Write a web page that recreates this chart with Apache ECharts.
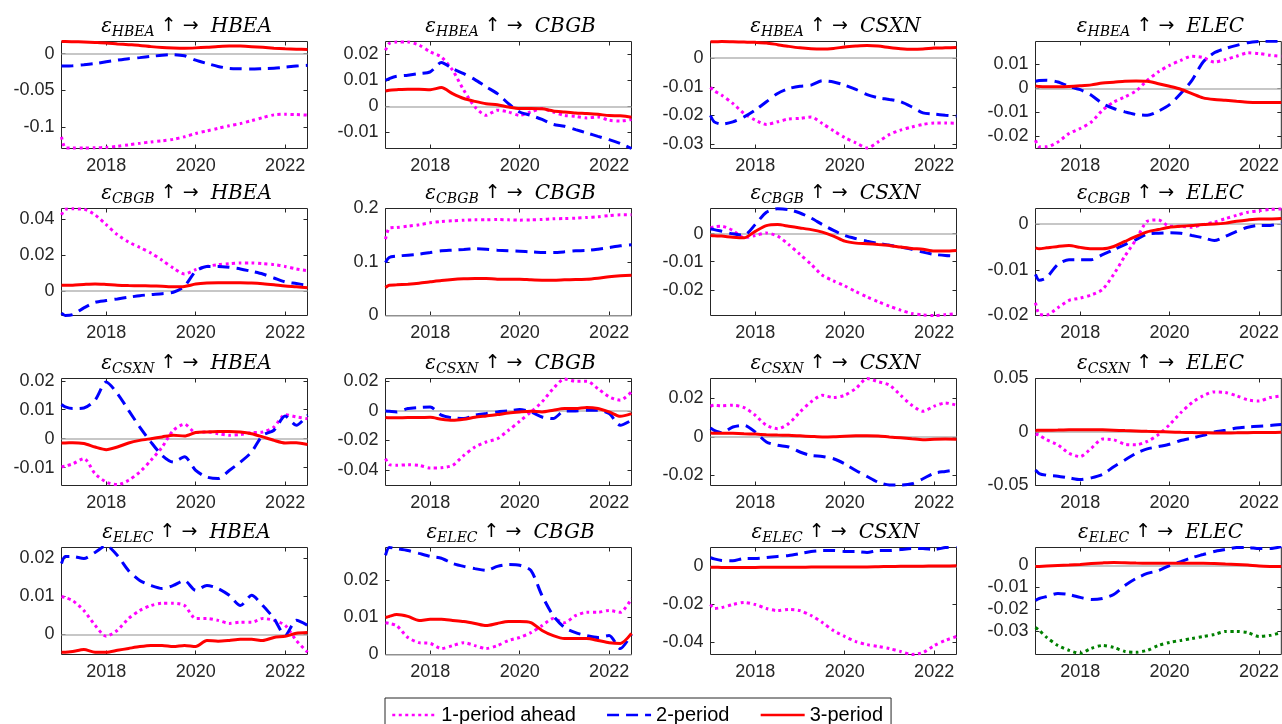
<!DOCTYPE html>
<html>
<head>
<meta charset="utf-8">
<script src="https://cdn.jsdelivr.net/npm/echarts@6/dist/echarts.min.js"></script>
<style>
html,body{margin:0;padding:0;background:#fff;}
#chart{width:1282px;height:724px;}
</style>
</head>
<body>
<div id="chart"></div>
<script>
// Variables of the system: shock (row) -> response (column)
const variables = ['HBEA', 'CBGB', 'CSXN', 'ELEC'];
const horizonNames = ['1-period ahead', '2-period', '3-period'];
const xTicks = [2018, 2020, 2022];

// Sample dates (decimal years)
const dates = [2017.0, 2017.083, 2017.25, 2017.5, 2017.75, 2018.0, 2018.25, 2018.5, 2018.75,
  2019.0, 2019.25, 2019.5, 2019.75, 2020.0, 2020.25, 2020.5, 2020.75,
  2021.0, 2021.25, 2021.5, 2021.75, 2022.0, 2022.25, 2022.5];

// Time-varying responses, <shock>_<response>_h<horizon>
const HBEA_HBEA_h1 = [-0.1136, -0.1285, -0.1288, -0.1288, -0.1285, -0.1280, -0.1265, -0.1245, -0.1225, -0.1205, -0.1190, -0.1170, -0.1135, -0.1090, -0.1055, -0.1020, -0.0985, -0.0955, -0.0915, -0.0873, -0.0836, -0.0828, -0.0832, -0.0840];
const HBEA_HBEA_h2 = [-0.0168, -0.0168, -0.0165, -0.0152, -0.0136, -0.0112, -0.0090, -0.0070, -0.0055, -0.0038, -0.0023, -0.0014, -0.0030, -0.0090, -0.0135, -0.0175, -0.0202, -0.0208, -0.0210, -0.0205, -0.0200, -0.0185, -0.0170, -0.0160];
const HBEA_HBEA_h3 = [0.0164, 0.0164, 0.0162, 0.0158, 0.0152, 0.0145, 0.0132, 0.0122, 0.0112, 0.0095, 0.0083, 0.0077, 0.0074, 0.0078, 0.0086, 0.0097, 0.0104, 0.0102, 0.0095, 0.0085, 0.0074, 0.0066, 0.0060, 0.0055];

const HBEA_CBGB_h1 = [0.0216, 0.0242, 0.0248, 0.0248, 0.0236, 0.0210, 0.0190, 0.0139, 0.0062, -0.0003, -0.0035, -0.0015, -0.0022, -0.0035, -0.0022, -0.0009, -0.0022, -0.0035, -0.0039, -0.0045, -0.0041, -0.0054, -0.0057, -0.0051];
const HBEA_CBGB_h2 = [0.0100, 0.0107, 0.0116, 0.0120, 0.0126, 0.0133, 0.0169, 0.0145, 0.0126, 0.0103, 0.0075, 0.0049, 0.0010, -0.0022, -0.0035, -0.0051, -0.0070, -0.0077, -0.0090, -0.0103, -0.0116, -0.0129, -0.0144, -0.0163];
const HBEA_CBGB_h3 = [0.0059, 0.0062, 0.0064, 0.0066, 0.0066, 0.0064, 0.0072, 0.0049, 0.0030, 0.0019, 0.0010, 0.0006, -0.0003, -0.0009, -0.0009, -0.0010, -0.0018, -0.0022, -0.0026, -0.0028, -0.0031, -0.0036, -0.0037, -0.0042];

const HBEA_CSXN_h1 = [-0.0102, -0.0114, -0.0129, -0.0158, -0.0193, -0.0216, -0.0231, -0.0222, -0.0212, -0.0210, -0.0205, -0.0228, -0.0253, -0.0277, -0.0295, -0.0313, -0.0292, -0.0266, -0.0251, -0.0240, -0.0231, -0.0226, -0.0226, -0.0227];
const HBEA_CSXN_h2 = [-0.0200, -0.0222, -0.0230, -0.0222, -0.0205, -0.0181, -0.0152, -0.0123, -0.0106, -0.0098, -0.0094, -0.0079, -0.0083, -0.0094, -0.0109, -0.0127, -0.0138, -0.0144, -0.0152, -0.0170, -0.0191, -0.0195, -0.0199, -0.0202];
const HBEA_CSXN_h3 = [0.0057, 0.0057, 0.0058, 0.0057, 0.0056, 0.0055, 0.0053, 0.0047, 0.0041, 0.0036, 0.0033, 0.0032, 0.0034, 0.0039, 0.0042, 0.0044, 0.0042, 0.0037, 0.0033, 0.0031, 0.0032, 0.0035, 0.0036, 0.0037];

const HBEA_ELEC_h1 = [-0.0216, -0.0243, -0.0243, -0.0223, -0.0188, -0.0167, -0.0140, -0.0091, -0.0057, -0.0036, -0.0011, 0.0033, 0.0068, 0.0095, 0.0116, 0.0133, 0.0127, 0.0109, 0.0119, 0.0133, 0.0147, 0.0144, 0.0137, 0.0133];
const HBEA_ELEC_h2 = [0.0029, 0.0032, 0.0033, 0.0026, 0.0008, -0.0006, -0.0029, -0.0064, -0.0084, -0.0098, -0.0109, -0.0112, -0.0095, -0.0068, -0.0022, 0.0033, 0.0109, 0.0147, 0.0165, 0.0178, 0.0189, 0.0194, 0.0195, 0.0195];
const HBEA_ELEC_h3 = [0.0010, 0.0007, 0.0006, 0.0006, 0.0007, 0.0010, 0.0014, 0.0022, 0.0025, 0.0029, 0.0030, 0.0029, 0.0019, 0.0008, -0.0004, -0.0022, -0.0040, -0.0047, -0.0050, -0.0054, -0.0058, -0.0059, -0.0059, -0.0059];

const CBGB_HBEA_h1 = [0.0422, 0.0453, 0.0455, 0.0453, 0.0422, 0.0367, 0.0312, 0.0271, 0.0241, 0.0210, 0.0170, 0.0127, 0.0094, 0.0118, 0.0136, 0.0146, 0.0151, 0.0155, 0.0155, 0.0151, 0.0146, 0.0136, 0.0122, 0.0112];
const CBGB_HBEA_h2 = [-0.0122, -0.0136, -0.0131, -0.0094, -0.0063, -0.0053, -0.0044, -0.0035, -0.0026, -0.0020, -0.0015, -0.0007, 0.0026, 0.0109, 0.0136, 0.0136, 0.0131, 0.0122, 0.0109, 0.0094, 0.0072, 0.0050, 0.0041, 0.0031];
const CBGB_HBEA_h3 = [0.0031, 0.0031, 0.0032, 0.0036, 0.0039, 0.0036, 0.0032, 0.0030, 0.0029, 0.0028, 0.0026, 0.0023, 0.0025, 0.0038, 0.0044, 0.0046, 0.0046, 0.0046, 0.0044, 0.0040, 0.0034, 0.0027, 0.0023, 0.0018];

const CBGB_CBGB_h1 = [0.1427, 0.1632, 0.1645, 0.1670, 0.1695, 0.1732, 0.1757, 0.1770, 0.1782, 0.1788, 0.1788, 0.1794, 0.1788, 0.1782, 0.1788, 0.1794, 0.1807, 0.1813, 0.1819, 0.1832, 0.1844, 0.1869, 0.1882, 0.1882];
const CBGB_CBGB_h2 = [0.0990, 0.1084, 0.1109, 0.1128, 0.1146, 0.1178, 0.1209, 0.1221, 0.1234, 0.1246, 0.1240, 0.1221, 0.1209, 0.1202, 0.1190, 0.1178, 0.1178, 0.1190, 0.1209, 0.1215, 0.1240, 0.1271, 0.1302, 0.1321];
const CBGB_CBGB_h3 = [0.0523, 0.0567, 0.0573, 0.0586, 0.0604, 0.0629, 0.0654, 0.0673, 0.0685, 0.0692, 0.0692, 0.0679, 0.0679, 0.0679, 0.0667, 0.0660, 0.0660, 0.0667, 0.0673, 0.0679, 0.0698, 0.0723, 0.0741, 0.0754];

const CBGB_CSXN_h1 = [0.0020, 0.0024, 0.0026, 0.0011, -0.0015, -0.0007, 0.0002, -0.0009, -0.0039, -0.0074, -0.0109, -0.0148, -0.0168, -0.0186, -0.0206, -0.0225, -0.0242, -0.0258, -0.0272, -0.0284, -0.0289, -0.0291, -0.0288, -0.0284];
const CBGB_CSXN_h2 = [0.0016, 0.0014, 0.0008, -0.0001, -0.0006, 0.0032, 0.0076, 0.0088, 0.0085, 0.0073, 0.0055, 0.0032, 0.0011, -0.0007, -0.0018, -0.0027, -0.0035, -0.0041, -0.0048, -0.0056, -0.0066, -0.0074, -0.0078, -0.0080];
const CBGB_CSXN_h3 = [-0.0007, -0.0008, -0.0009, -0.0013, -0.0015, 0.0008, 0.0028, 0.0032, 0.0026, 0.0020, 0.0014, 0.0005, -0.0009, -0.0027, -0.0034, -0.0036, -0.0039, -0.0042, -0.0048, -0.0053, -0.0056, -0.0062, -0.0062, -0.0060];

const CBGB_ELEC_h1 = [-0.0172, -0.0197, -0.0199, -0.0183, -0.0167, -0.0162, -0.0155, -0.0143, -0.0110, -0.0070, -0.0034, 0.0006, 0.0009, -0.0005, -0.0005, -0.0007, -0.0001, 0.0004, 0.0012, 0.0019, 0.0026, 0.0029, 0.0032, 0.0033];
const CBGB_ELEC_h2 = [-0.0110, -0.0123, -0.0117, -0.0088, -0.0078, -0.0078, -0.0078, -0.0067, -0.0056, -0.0045, -0.0034, -0.0022, -0.0020, -0.0019, -0.0020, -0.0025, -0.0030, -0.0036, -0.0027, -0.0016, -0.0007, -0.0003, -0.0003, 0.0002];
const CBGB_ELEC_h3 = [-0.0052, -0.0054, -0.0052, -0.0049, -0.0047, -0.0051, -0.0054, -0.0054, -0.0049, -0.0038, -0.0027, -0.0017, -0.0012, -0.0007, -0.0005, -0.0003, -0.0001, 0.0000, 0.0002, 0.0006, 0.0009, 0.0011, 0.0011, 0.0012];

const CSXN_HBEA_h1 = [-0.0098, -0.0095, -0.0087, -0.0069, -0.0121, -0.0150, -0.0159, -0.0144, -0.0115, -0.0075, -0.0029, 0.0029, 0.0050, 0.0021, 0.0023, 0.0017, 0.0012, 0.0014, 0.0021, 0.0023, 0.0040, 0.0083, 0.0075, 0.0069];
const CSXN_HBEA_h2 = [0.0118, 0.0110, 0.0104, 0.0106, 0.0133, 0.0196, 0.0156, 0.0098, 0.0040, -0.0012, -0.0058, -0.0081, -0.0063, -0.0110, -0.0133, -0.0138, -0.0110, -0.0081, -0.0046, 0.0012, 0.0029, 0.0078, 0.0046, 0.0081];
const CSXN_HBEA_h3 = [-0.0015, -0.0015, -0.0014, -0.0017, -0.0029, -0.0038, -0.0029, -0.0015, -0.0006, 0.0000, 0.0006, 0.0012, 0.0009, 0.0021, 0.0023, 0.0025, 0.0025, 0.0023, 0.0017, 0.0006, -0.0006, -0.0015, -0.0014, -0.0020];

const CSXN_CBGB_h1 = [-0.0323, -0.0362, -0.0368, -0.0364, -0.0368, -0.0386, -0.0384, -0.0368, -0.0301, -0.0244, -0.0210, -0.0188, -0.0131, -0.0070, -0.0007, 0.0061, 0.0151, 0.0215, 0.0201, 0.0201, 0.0151, 0.0095, 0.0072, 0.0129];
const CSXN_CBGB_h2 = [0.0000, -0.0002, -0.0007, 0.0016, 0.0023, 0.0027, -0.0029, -0.0047, -0.0052, -0.0029, -0.0018, -0.0007, 0.0000, 0.0009, -0.0007, -0.0041, -0.0052, 0.0000, 0.0000, 0.0005, 0.0005, -0.0018, -0.0097, -0.0063];
const CSXN_CBGB_h3 = [-0.0045, -0.0047, -0.0047, -0.0045, -0.0045, -0.0043, -0.0056, -0.0063, -0.0056, -0.0043, -0.0034, -0.0025, -0.0014, -0.0007, -0.0002, -0.0007, 0.0005, 0.0016, 0.0016, 0.0023, 0.0016, -0.0007, -0.0036, -0.0018];

const CSXN_CSXN_h1 = [0.0160, 0.0165, 0.0162, 0.0165, 0.0153, 0.0113, 0.0061, 0.0043, 0.0070, 0.0130, 0.0183, 0.0217, 0.0205, 0.0217, 0.0252, 0.0304, 0.0287, 0.0270, 0.0217, 0.0165, 0.0134, 0.0160, 0.0177, 0.0165];
const CSXN_CSXN_h2 = [0.0047, 0.0035, 0.0023, 0.0052, 0.0061, 0.0026, -0.0026, -0.0043, -0.0052, -0.0078, -0.0096, -0.0101, -0.0113, -0.0139, -0.0174, -0.0205, -0.0235, -0.0249, -0.0249, -0.0243, -0.0217, -0.0188, -0.0179, -0.0170];
const CSXN_CSXN_h3 = [0.0021, 0.0020, 0.0020, 0.0019, 0.0017, 0.0015, 0.0012, 0.0010, 0.0009, 0.0006, 0.0003, 0.0000, 0.0001, 0.0004, 0.0006, 0.0007, 0.0005, 0.0000, -0.0004, -0.0009, -0.0014, -0.0012, -0.0011, -0.0012];

const CSXN_ELEC_h1 = [-0.0019, -0.0030, -0.0073, -0.0120, -0.0199, -0.0230, -0.0151, -0.0066, -0.0073, -0.0114, -0.0120, -0.0088, -0.0025, 0.0069, 0.0180, 0.0274, 0.0338, 0.0375, 0.0369, 0.0338, 0.0300, 0.0290, 0.0322, 0.0338];
const CSXN_ELEC_h2 = [-0.0356, -0.0388, -0.0404, -0.0413, -0.0429, -0.0445, -0.0429, -0.0397, -0.0325, -0.0262, -0.0199, -0.0158, -0.0136, -0.0114, -0.0079, -0.0057, -0.0032, 0.0000, 0.0016, 0.0038, 0.0047, 0.0054, 0.0060, 0.0069];
const CSXN_ELEC_h3 = [0.0015, 0.0016, 0.0017, 0.0018, 0.0020, 0.0022, 0.0022, 0.0020, 0.0017, 0.0013, 0.0010, 0.0006, 0.0003, 0.0000, -0.0003, -0.0005, -0.0007, -0.0009, -0.0009, -0.0008, -0.0006, -0.0005, -0.0004, -0.0003];

const ELEC_HBEA_h1 = [0.0100, 0.0097, 0.0089, 0.0063, 0.0024, -0.0005, 0.0011, 0.0042, 0.0063, 0.0076, 0.0082, 0.0082, 0.0076, 0.0042, 0.0042, 0.0037, 0.0029, 0.0032, 0.0032, 0.0042, 0.0037, 0.0024, -0.0016, -0.0047];
const ELEC_HBEA_h2 = [0.0187, 0.0205, 0.0205, 0.0200, 0.0216, 0.0234, 0.0208, 0.0168, 0.0142, 0.0129, 0.0121, 0.0129, 0.0142, 0.0116, 0.0129, 0.0121, 0.0103, 0.0076, 0.0103, 0.0076, 0.0042, -0.0003, 0.0037, 0.0024];
const ELEC_HBEA_h3 = [-0.0047, -0.0047, -0.0045, -0.0040, -0.0047, -0.0047, -0.0042, -0.0037, -0.0032, -0.0029, -0.0029, -0.0032, -0.0029, -0.0032, -0.0016, -0.0018, -0.0016, -0.0013, -0.0013, -0.0016, -0.0008, -0.0005, 0.0003, 0.0005];

const ELEC_CBGB_h1 = [0.0086, 0.0084, 0.0078, 0.0046, 0.0032, 0.0030, 0.0016, 0.0024, 0.0032, 0.0024, 0.0016, 0.0024, 0.0038, 0.0046, 0.0059, 0.0078, 0.0097, 0.0086, 0.0105, 0.0114, 0.0114, 0.0119, 0.0114, 0.0151];
const ELEC_CBGB_h2 = [0.0268, 0.0289, 0.0286, 0.0281, 0.0273, 0.0265, 0.0260, 0.0246, 0.0238, 0.0232, 0.0227, 0.0238, 0.0243, 0.0241, 0.0227, 0.0159, 0.0105, 0.0073, 0.0059, 0.0051, 0.0046, 0.0051, 0.0016, 0.0055];
const ELEC_CBGB_h3 = [0.0100, 0.0103, 0.0108, 0.0103, 0.0092, 0.0095, 0.0095, 0.0092, 0.0089, 0.0084, 0.0078, 0.0084, 0.0089, 0.0089, 0.0086, 0.0065, 0.0051, 0.0043, 0.0043, 0.0043, 0.0038, 0.0032, 0.0030, 0.0057];

const ELEC_CSXN_h1 = [-0.0200, -0.0221, -0.0216, -0.0200, -0.0189, -0.0200, -0.0221, -0.0232, -0.0226, -0.0232, -0.0258, -0.0295, -0.0337, -0.0368, -0.0395, -0.0411, -0.0421, -0.0432, -0.0447, -0.0463, -0.0453, -0.0416, -0.0389, -0.0368];
const ELEC_CSXN_h2 = [0.0047, 0.0040, 0.0032, 0.0030, 0.0042, 0.0042, 0.0047, 0.0053, 0.0058, 0.0068, 0.0079, 0.0084, 0.0084, 0.0079, 0.0079, 0.0074, 0.0084, 0.0084, 0.0089, 0.0095, 0.0095, 0.0089, 0.0100, 0.0105];
const ELEC_CSXN_h3 = [-0.0004, -0.0004, -0.0005, -0.0005, -0.0005, -0.0005, -0.0004, -0.0004, -0.0004, -0.0004, -0.0003, -0.0003, -0.0003, -0.0002, -0.0002, -0.0002, -0.0001, 0.0000, 0.0001, 0.0002, 0.0002, 0.0003, 0.0003, 0.0004];

const ELEC_ELEC_h1 = [-0.0282, -0.0295, -0.0327, -0.0364, -0.0386, -0.0400, -0.0377, -0.0364, -0.0373, -0.0391, -0.0395, -0.0386, -0.0364, -0.0350, -0.0341, -0.0332, -0.0323, -0.0314, -0.0300, -0.0300, -0.0305, -0.0323, -0.0318, -0.0305];
const ELEC_ELEC_h2 = [-0.0159, -0.0150, -0.0141, -0.0127, -0.0132, -0.0145, -0.0155, -0.0150, -0.0132, -0.0091, -0.0059, -0.0036, -0.0023, 0.0000, 0.0018, 0.0036, 0.0050, 0.0064, 0.0073, 0.0082, 0.0082, 0.0077, 0.0077, 0.0086];
const ELEC_ELEC_h3 = [-0.0005, -0.0004, -0.0002, 0.0000, 0.0002, 0.0005, 0.0009, 0.0012, 0.0014, 0.0013, 0.0011, 0.0010, 0.0010, 0.0010, 0.0010, 0.0010, 0.0010, 0.0009, 0.0007, 0.0005, 0.0002, -0.0002, -0.0004, -0.0005];

// Panels in row-major order (row = shock, column = response)
const panelData = [
  [HBEA_HBEA_h1, HBEA_HBEA_h2, HBEA_HBEA_h3], [HBEA_CBGB_h1, HBEA_CBGB_h2, HBEA_CBGB_h3],
  [HBEA_CSXN_h1, HBEA_CSXN_h2, HBEA_CSXN_h3], [HBEA_ELEC_h1, HBEA_ELEC_h2, HBEA_ELEC_h3],
  [CBGB_HBEA_h1, CBGB_HBEA_h2, CBGB_HBEA_h3], [CBGB_CBGB_h1, CBGB_CBGB_h2, CBGB_CBGB_h3],
  [CBGB_CSXN_h1, CBGB_CSXN_h2, CBGB_CSXN_h3], [CBGB_ELEC_h1, CBGB_ELEC_h2, CBGB_ELEC_h3],
  [CSXN_HBEA_h1, CSXN_HBEA_h2, CSXN_HBEA_h3], [CSXN_CBGB_h1, CSXN_CBGB_h2, CSXN_CBGB_h3],
  [CSXN_CSXN_h1, CSXN_CSXN_h2, CSXN_CSXN_h3], [CSXN_ELEC_h1, CSXN_ELEC_h2, CSXN_ELEC_h3],
  [ELEC_HBEA_h1, ELEC_HBEA_h2, ELEC_HBEA_h3], [ELEC_CBGB_h1, ELEC_CBGB_h2, ELEC_CBGB_h3],
  [ELEC_CSXN_h1, ELEC_CSXN_h2, ELEC_CSXN_h3], [ELEC_ELEC_h1, ELEC_ELEC_h2, ELEC_ELEC_h3]
];

// Y tick labels per panel
const yTicks = [
  [-0.1, -0.05, 0], [-0.01, 0, 0.01, 0.02], [-0.03, -0.02, -0.01, 0], [-0.02, -0.01, 0, 0.01],
  [0, 0.02, 0.04], [0, 0.1, 0.2], [-0.02, -0.01, 0], [-0.02, -0.01, 0],
  [-0.01, 0, 0.01, 0.02], [-0.04, -0.02, 0, 0.02], [-0.02, 0, 0.02], [-0.05, 0, 0.05],
  [0, 0.01, 0.02], [0, 0.01, 0.02], [-0.04, -0.02, 0], [-0.03, -0.02, -0.01, 0]
];

// Y axis limits per panel (tight to the data)
const yLimits = [
  [-0.1295, 0.0165], [-0.0163, 0.025], [-0.0315, 0.0058], [-0.025, 0.0194],
  [-0.0136, 0.0457], [0, 0.2], [-0.0291, 0.0089], [-0.02, 0.0034],
  [-0.0162, 0.0208], [-0.0504, 0.0219], [-0.0252, 0.0304], [-0.05, 0.05],
  [-0.0053, 0.0229], [0, 0.0289], [-0.0463, 0.01], [-0.0405, 0.0082]
];

// ---- layout and styling ----
const colLeft = [61.5, 385.5, 710.5, 1035.5];
const rowTop = [41.5, 208.5, 378.5, 547.5];
const plotW = 246, plotH = 107;
const axisColor = '#262626';
const tickFont = 'Liberation Sans, Arial, sans-serif';
const horizonStyles = [
  { color: '#ff00ff', width: 3, type: [3, 3.5] },
  { color: '#0000ff', width: 3, type: [12, 7] },
  { color: '#ff0000', width: 3, type: 'solid' }
];
const greenDotted = { color: '#008000', width: 3, type: [3, 3.5] };

const fmt = v => String(Math.round(v * 10000) / 10000);

const grid = [], xAxis = [], yAxis = [], series = [], graphic = [];

panelData.forEach((lines, i) => {
  const r = Math.floor(i / 4), c = i % 4;
  const [ymin, ymax] = yLimits[i];
  grid.push({
    left: colLeft[c], top: rowTop[r], width: plotW, height: plotH,
    show: true, borderColor: axisColor, borderWidth: 1, backgroundColor: 'transparent'
  });
  const tickStyle = { inside: true, length: 4, lineStyle: { color: axisColor, width: 1 } };
  const noLine = { show: false, onZero: false };
  // bottom / top x axes
  xAxis.push({
    type: 'value', gridIndex: i, min: 2017, max: 2022.5, position: 'bottom',
    axisLine: noLine, splitLine: { show: false },
    axisTick: Object.assign({ customValues: xTicks }, tickStyle),
    axisLabel: { customValues: xTicks, margin: 9, fontSize: 18, fontFamily: tickFont, color: axisColor, formatter: v => String(v) }
  });
  xAxis.push({
    type: 'value', gridIndex: i, min: 2017, max: 2022.5, position: 'top',
    axisLine: noLine, splitLine: { show: false },
    axisTick: Object.assign({ customValues: xTicks }, tickStyle),
    axisLabel: { show: false }
  });
  // left / right y axes
  yAxis.push({
    type: 'value', gridIndex: i, min: ymin, max: ymax, position: 'left',
    axisLine: noLine, splitLine: { show: false },
    axisTick: Object.assign({ customValues: yTicks[i] }, tickStyle),
    axisLabel: { customValues: yTicks[i], margin: 7, fontSize: 18, fontFamily: tickFont, color: axisColor, formatter: fmt }
  });
  yAxis.push({
    type: 'value', gridIndex: i, min: ymin, max: ymax, position: 'right',
    axisLine: noLine, splitLine: { show: false },
    axisTick: Object.assign({ customValues: yTicks[i] }, tickStyle),
    axisLabel: { show: false }
  });

  lines.forEach((vals, h) => {
    const st = (i === 15 && h === 0) ? greenDotted : horizonStyles[h];
    const s = {
      type: 'line', name: horizonNames[h],
      xAxisIndex: 2 * i, yAxisIndex: 2 * i,
      data: dates.map((d, k) => [d, vals[k]]),
      symbol: 'none', showSymbol: false, smooth: 0.25,
      lineStyle: { color: st.color, width: st.width, type: st.type, cap: 'butt' },
      itemStyle: { color: st.color },
      silent: true, animation: false, z: 3 + h
    };
    if (h === 0) {
      s.markLine = {
        silent: true, symbol: 'none', animation: false, z: 1,
        label: { show: false },
        lineStyle: { color: '#b4b4b4', width: 1.5, type: 'solid' },
        data: [{ yAxis: 0 }]
      };
    }
    series.push(s);
  });

  // Panel title: shock epsilon with subscript, arrows, response variable
  graphic.push({
    type: 'text', silent: true,
    x: colLeft[c] + plotW / 2 + 2, y: rowTop[r] - 15,
    style: {
      text: '{e|ε}{s|' + variables[r] + '}{a| ↑ →  }{n|' + variables[c] + '}',
      align: 'center', verticalAlign: 'middle',
      textAlign: 'center', textVerticalAlign: 'middle',
      rich: {
        e: { fontFamily: 'DejaVu Serif', fontStyle: 'italic', fontSize: 20, lineHeight: 26, fill: '#000', color: '#000' },
        s: { fontFamily: 'DejaVu Serif', fontStyle: 'italic', fontSize: 14, lineHeight: 15, verticalAlign: 'bottom', fill: '#000', color: '#000' },
        a: { fontFamily: 'DejaVu Sans', fontSize: 19, lineHeight: 26, fill: '#000', color: '#000' },
        n: { fontFamily: 'DejaVu Serif', fontStyle: 'italic', fontSize: 20, lineHeight: 26, fill: '#000', color: '#000' }
      }
    }
  });
});

const chart = echarts.init(document.getElementById('chart'), null, { renderer: 'canvas' });
chart.setOption({
  backgroundColor: '#ffffff',
  animation: false,
  grid, xAxis, yAxis, series, graphic,
  legend: {
    data: horizonNames,
    left: 385, top: 698,
    orient: 'horizontal',
    itemWidth: 44, itemHeight: 14, itemGap: 30,
    padding: [7, 8, 8, 6],
    borderColor: axisColor, borderWidth: 1, backgroundColor: '#ffffff',
    selectedMode: false,
    itemStyle: { opacity: 0 },
    lineStyle: { width: 2.5 },
    textStyle: { fontSize: 20, fontFamily: tickFont, color: '#000' }
  }
});
</script>
</body>
</html>
